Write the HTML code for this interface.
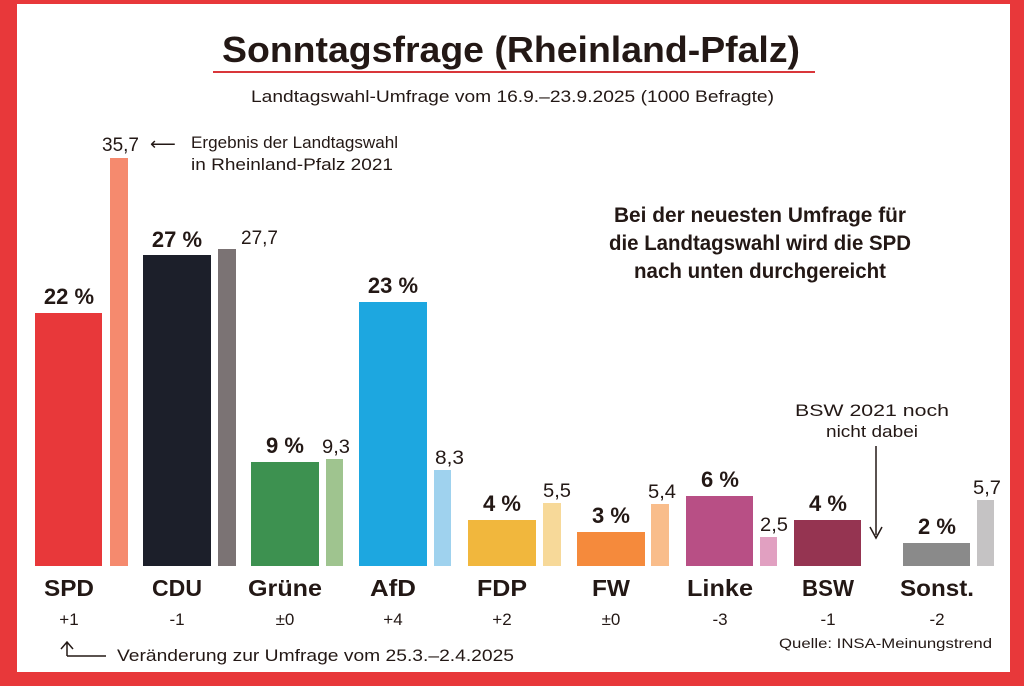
<!DOCTYPE html>
<html><head><meta charset="utf-8"><style>
html,body{margin:0;padding:0;background:#e8383a;}
svg{display:block}
text{font-family:"Liberation Sans",sans-serif;fill:#231815}
</style></head><body>
<svg width="1024" height="686" viewBox="0 0 1024 686">
<rect x="0" y="0" width="1024" height="686" fill="#e8383a"/>
<rect x="17" y="4" width="993" height="668" fill="#fff"/>
<text x="222" y="62" font-size="36" font-weight="bold" textLength="578" lengthAdjust="spacingAndGlyphs">Sonntagsfrage (Rheinland-Pfalz)</text>
<rect x="213" y="71" width="602" height="2" fill="#d9363a"/>
<text x="251" y="102" font-size="17" textLength="523" lengthAdjust="spacingAndGlyphs">Landtagswahl-Umfrage vom 16.9.–23.9.2025 (1000 Befragte)</text>

<rect x="35" y="313" width="67" height="253" fill="#e8383a"/>
<rect x="110" y="158" width="18" height="408" fill="#f58a6e"/>
<rect x="143" y="255" width="68" height="311" fill="#1c1f2a"/>
<rect x="218" y="249" width="18" height="317" fill="#7b7374"/>
<rect x="251" y="462" width="68" height="104" fill="#3d9150"/>
<rect x="326" y="459" width="17" height="107" fill="#9fc48f"/>
<rect x="359" y="302" width="68" height="264" fill="#1da7e0"/>
<rect x="434" y="470" width="17" height="96" fill="#9fd2ee"/>
<rect x="468" y="520" width="68" height="46" fill="#f1b73d"/>
<rect x="543" y="503" width="18" height="63" fill="#f7d999"/>
<rect x="577" y="532" width="68" height="34" fill="#f58a3c"/>
<rect x="651" y="504" width="18" height="62" fill="#f9bd8b"/>
<rect x="686" y="496" width="67" height="70" fill="#b84f85"/>
<rect x="760" y="537" width="17" height="29" fill="#e1a0c1"/>
<rect x="794" y="520" width="67" height="46" fill="#953451"/>
<rect x="903" y="543" width="67" height="23" fill="#8a8a8a"/>
<rect x="977" y="500" width="17" height="66" fill="#c5c3c4"/>

<g font-size="22" font-weight="bold" text-anchor="middle">
<text x="69" y="304">22 %</text>
<text x="177" y="247">27 %</text>
<text x="285" y="453">9 %</text>
<text x="393" y="293">23 %</text>
<text x="502" y="511">4 %</text>
<text x="611" y="523">3 %</text>
<text x="720" y="487">6 %</text>
<text x="828" y="511">4 %</text>
<text x="937" y="534">2 %</text>
</g>
<g font-size="19">
<text x="102" y="151" textLength="37" lengthAdjust="spacingAndGlyphs">35,7</text>
<text x="241" y="244" textLength="37" lengthAdjust="spacingAndGlyphs">27,7</text>
<text x="322" y="453" textLength="28" lengthAdjust="spacingAndGlyphs">9,3</text>
<text x="435" y="464" textLength="29" lengthAdjust="spacingAndGlyphs">8,3</text>
<text x="543" y="497" textLength="28" lengthAdjust="spacingAndGlyphs">5,5</text>
<text x="648" y="498" textLength="28" lengthAdjust="spacingAndGlyphs">5,4</text>
<text x="760" y="531" textLength="28" lengthAdjust="spacingAndGlyphs">2,5</text>
<text x="973" y="494" textLength="28" lengthAdjust="spacingAndGlyphs">5,7</text>
</g>
<text x="150" y="150" font-size="18">⟵</text>
<text x="191" y="148" font-size="17" textLength="207" lengthAdjust="spacingAndGlyphs">Ergebnis der Landtagswahl</text>
<text x="191" y="170" font-size="17" textLength="202" lengthAdjust="spacingAndGlyphs">in Rheinland-Pfalz 2021</text>

<g font-size="21" font-weight="bold" text-anchor="middle">
<text x="760" y="222" textLength="292" lengthAdjust="spacingAndGlyphs">Bei der neuesten Umfrage für</text>
<text x="760" y="250" textLength="302" lengthAdjust="spacingAndGlyphs">die Landtagswahl wird die SPD</text>
<text x="760" y="278" textLength="252" lengthAdjust="spacingAndGlyphs">nach unten durchgereicht</text>
</g>
<g font-size="17" text-anchor="middle">
<text x="872" y="416" textLength="154" lengthAdjust="spacingAndGlyphs">BSW 2021 noch</text>
<text x="872" y="437" textLength="92" lengthAdjust="spacingAndGlyphs">nicht dabei</text>
</g>
<line x1="876" y1="446" x2="876" y2="535" stroke="#231815" stroke-width="1.5"/>
<path d="M870 527 L876 538 L882 527" fill="none" stroke="#231815" stroke-width="1.5"/>

<g font-size="23" font-weight="bold" text-anchor="middle">
<text x="69" y="596" textLength="50" lengthAdjust="spacingAndGlyphs">SPD</text>
<text x="177" y="596" textLength="50" lengthAdjust="spacingAndGlyphs">CDU</text>
<text x="285" y="596" textLength="74" lengthAdjust="spacingAndGlyphs">Grüne</text>
<text x="393" y="596" textLength="46" lengthAdjust="spacingAndGlyphs">AfD</text>
<text x="502" y="596" textLength="50" lengthAdjust="spacingAndGlyphs">FDP</text>
<text x="611" y="596" textLength="38" lengthAdjust="spacingAndGlyphs">FW</text>
<text x="720" y="596" textLength="66" lengthAdjust="spacingAndGlyphs">Linke</text>
<text x="828" y="596" textLength="52" lengthAdjust="spacingAndGlyphs">BSW</text>
<text x="937" y="596" textLength="74" lengthAdjust="spacingAndGlyphs">Sonst.</text>
</g>
<g font-size="17" text-anchor="middle">
<text x="69" y="625">+1</text>
<text x="177" y="625">-1</text>
<text x="285" y="625">±0</text>
<text x="393" y="625">+4</text>
<text x="502" y="625">+2</text>
<text x="611" y="625">±0</text>
<text x="720" y="625">-3</text>
<text x="828" y="625">-1</text>
<text x="937" y="625">-2</text>
</g>
<path d="M67 656 L67 643 M61 649 L67 642 L73 649 M67 656 L106 656" fill="none" stroke="#231815" stroke-width="1.5"/>
<text x="117" y="661" font-size="17" textLength="397" lengthAdjust="spacingAndGlyphs">Veränderung zur Umfrage vom 25.3.–2.4.2025</text>
<text x="779" y="648" font-size="14" textLength="213" lengthAdjust="spacingAndGlyphs">Quelle: INSA-Meinungstrend</text>
</svg>
</body></html>
